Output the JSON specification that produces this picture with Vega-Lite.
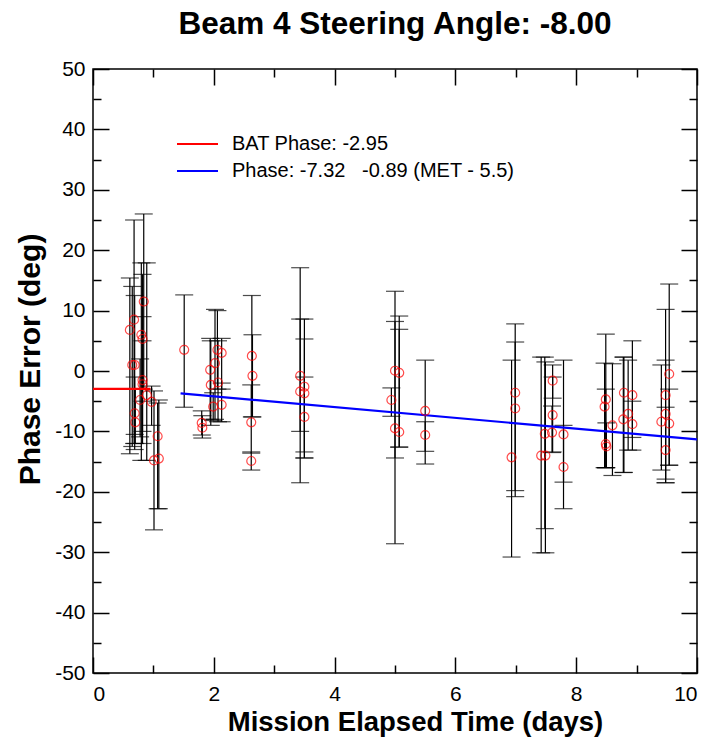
{
  "$schema": "https://vega.github.io/schema/vega-lite/v6.json",
  "autosize": "none",
  "width": 604,
  "height": 604,
  "padding": {"left": 93, "top": 69, "right": 15, "bottom": 69},
  "background": "white",
  "title": {
    "text": "Beam 4 Steering Angle: -8.00",
    "font": "Liberation Sans",
    "fontSize": 31.5,
    "fontWeight": "bold",
    "color": "black",
    "anchor": "middle",
    "baseline": "alphabetic",
    "offset": -7
  },
  "config": {
    "view": {"stroke": "black", "strokeWidth": 1.5},
    "axis": {
      "domain": false,
      "grid": false,
      "tickColor": "black",
      "tickWidth": 1.5,
      "labelColor": "black",
      "labelFont": "Liberation Sans",
      "labelFontSize": 21,
      "titleFont": "Liberation Sans",
      "titleFontSize": 27.5,
      "titleFontWeight": "bold",
      "titleColor": "black"
    }
  },
  "resolve": {"axis": {"x": "independent", "y": "independent"}},
  "datasets": {
    "pts": [
      {"t": 0.61, "p": 6.8, "lo": -13.7, "hi": 15.4},
      {"t": 0.68, "p": 8.5, "lo": -12.0, "hi": 25.0},
      {"t": 0.65, "p": 1.0, "lo": -12.5, "hi": 14.0},
      {"t": 0.69, "p": 1.0, "lo": -10.5, "hi": 12.5},
      {"t": 0.69, "p": -7.0, "lo": -13.0, "hi": -1.0},
      {"t": 0.70, "p": -8.5, "lo": -12.0, "hi": -3.0},
      {"t": 0.84, "p": 11.5, "lo": -3.0, "hi": 26.0},
      {"t": 0.80, "p": 6.0, "lo": -14.8, "hi": 17.9},
      {"t": 0.82, "p": 5.3, "lo": -5.0, "hi": 16.0},
      {"t": 0.82, "p": -1.5, "lo": -12.0, "hi": 9.0},
      {"t": 0.82, "p": -2.2, "lo": -10.0, "hi": 5.0},
      {"t": 0.89, "p": -4.0, "lo": -14.8, "hi": 17.9},
      {"t": 0.78, "p": -4.8, "lo": -10.9, "hi": 2.0},
      {"t": 0.97, "p": -5.1, "lo": -9.0, "hi": -2.5},
      {"t": 1.07, "p": -10.8, "lo": -22.8, "hi": -5.3},
      {"t": 1.01, "p": -14.8, "lo": -26.3, "hi": -3.3},
      {"t": 1.09, "p": -14.5, "lo": -22.8, "hi": -4.8},
      {"t": 1.51, "p": 3.5, "lo": -6.0, "hi": 12.6},
      {"t": 1.80, "p": -8.6, "lo": -10.6, "hi": -6.6},
      {"t": 1.81, "p": -9.4, "lo": -11.1, "hi": -7.4},
      {"t": 2.06, "p": 3.5, "lo": -3.0, "hi": 10.0},
      {"t": 2.13, "p": 3.0, "lo": -3.0, "hi": 5.4},
      {"t": 2.02, "p": 1.3, "lo": -8.0, "hi": 10.2},
      {"t": 1.94, "p": 0.2, "lo": -8.0, "hi": 5.4},
      {"t": 1.95, "p": -2.3, "lo": -9.0, "hi": 5.0},
      {"t": 2.07, "p": -1.9, "lo": -8.4, "hi": 5.0},
      {"t": 1.99, "p": -5.9, "lo": -8.2, "hi": -3.6},
      {"t": 2.13, "p": -5.6, "lo": -8.4, "hi": -2.0},
      {"t": 2.63, "p": 2.5, "lo": -7.6, "hi": 12.5},
      {"t": 2.64, "p": -0.8, "lo": -7.6, "hi": 6.0},
      {"t": 2.62, "p": -8.5, "lo": -13.6, "hi": -2.3},
      {"t": 2.62, "p": -14.9, "lo": -16.4, "hi": -13.4},
      {"t": 3.43, "p": -0.8, "lo": -18.5, "hi": 17.1},
      {"t": 3.43, "p": -3.4, "lo": -10.0, "hi": 8.6},
      {"t": 3.50, "p": -2.6, "lo": -13.4, "hi": 5.3},
      {"t": 3.50, "p": -3.7, "lo": -14.4, "hi": 8.6},
      {"t": 3.50, "p": -7.6, "lo": -14.4, "hi": -1.0},
      {"t": 5.00, "p": 0.05, "lo": -28.6, "hi": 13.2},
      {"t": 5.07, "p": -0.3, "lo": -12.6, "hi": 9.1},
      {"t": 4.94, "p": -4.8, "lo": -7.5, "hi": -2.8},
      {"t": 5.00, "p": -9.5, "lo": -14.4, "hi": 8.2},
      {"t": 5.07, "p": -10.1, "lo": -12.6, "hi": 6.9},
      {"t": 5.50, "p": -6.6, "lo": -13.3, "hi": 1.8},
      {"t": 5.50, "p": -10.6, "lo": -15.4, "hi": -8.4},
      {"t": 6.99, "p": -3.6, "lo": -19.8, "hi": 7.8},
      {"t": 6.99, "p": -6.2, "lo": -20.8, "hi": 4.8},
      {"t": 6.93, "p": -14.3, "lo": -30.8, "hi": 1.8},
      {"t": 7.61, "p": -1.6, "lo": -4.5, "hi": 1.0},
      {"t": 7.61, "p": -7.3, "lo": -13.4, "hi": -1.0},
      {"t": 7.48, "p": -10.4, "lo": -26.1, "hi": 2.3},
      {"t": 7.60, "p": -10.2, "lo": -13.5, "hi": -5.8},
      {"t": 7.79, "p": -10.5, "lo": -18.4, "hi": 1.8},
      {"t": 7.42, "p": -14.0, "lo": -30.1, "hi": 2.3},
      {"t": 7.49, "p": -14.0, "lo": -30.1, "hi": 1.5},
      {"t": 7.79, "p": -15.9, "lo": -22.8, "hi": -9.0},
      {"t": 8.49, "p": -4.7, "lo": -16.0, "hi": 6.1},
      {"t": 8.47, "p": -5.9, "lo": -16.0, "hi": 1.3},
      {"t": 8.60, "p": -9.0, "lo": -17.3, "hi": 1.2},
      {"t": 8.49, "p": -12.1, "lo": -16.0, "hi": -3.0},
      {"t": 8.50, "p": -12.5, "lo": -16.0, "hi": -8.6},
      {"t": 8.79, "p": -3.6, "lo": -16.8, "hi": 2.3},
      {"t": 8.93, "p": -4.0, "lo": -13.1, "hi": 5.0},
      {"t": 8.86, "p": -7.1, "lo": -13.1, "hi": 1.8},
      {"t": 8.78, "p": -8.0, "lo": -16.8, "hi": 2.3},
      {"t": 8.93, "p": -8.8, "lo": -11.0, "hi": -5.0},
      {"t": 9.54, "p": -0.5, "lo": -15.6, "hi": 14.4},
      {"t": 9.48, "p": -4.0, "lo": -18.5, "hi": 10.2},
      {"t": 9.48, "p": -7.1, "lo": -17.9, "hi": 1.8},
      {"t": 9.41, "p": -8.4, "lo": -16.4, "hi": 1.0},
      {"t": 9.54, "p": -8.7, "lo": -15.6, "hi": -3.0},
      {"t": 9.48, "p": -13.1, "lo": -18.5, "hi": -6.0}
    ],
    "fits": [
      {"series": "BAT Phase: -2.95", "t": 0.0, "p": -2.95},
      {"series": "BAT Phase: -2.95", "t": 0.95, "p": -2.95},
      {"series": "Phase: -7.32\u00a0\u00a0\u00a0-0.89 (MET - 5.5)", "t": 1.45, "p": -3.71},
      {"series": "Phase: -7.32\u00a0\u00a0\u00a0-0.89 (MET - 5.5)", "t": 10.0, "p": -11.33}
    ]
  },
  "layer": [
    {
      "data": {"name": "pts"},
      "mark": {"type": "rule", "color": "black", "strokeWidth": 1.2},
      "encoding": {
        "x": {"field": "t", "type": "quantitative", "scale": {"domain": [0, 10], "nice": false},
          "axis": {"orient": "bottom", "title": "Mission Elapsed Time (days)", "values": [0,1,2,3,4,5,6,7,8,9,10],
            "labelExpr": "datum.value % 2 === 0 ? datum.label : ''",
            "tickSize": {"condition": {"test": "datum.value % 2 === 0", "value": -16}, "value": -8},
            "labelPadding": 26, "titlePadding": 4, "titleX": 322}},
        "y": {"field": "lo", "type": "quantitative", "scale": {"domain": [-50, 50], "nice": false},
          "axis": {"orient": "left", "title": "Phase Error (deg)", "values": [-50,-45,-40,-35,-30,-25,-20,-15,-10,-5,0,5,10,15,20,25,30,35,40,45,50],
            "labelExpr": "datum.value % 10 === 0 ? replace(datum.label, '\u2212', '-') : ''",
            "tickSize": {"condition": {"test": "datum.value % 10 === 0", "value": -16}, "value": -8},
            "labelPadding": 24, "titlePadding": 9, "titleFontSize": 30, "titleY": 290}},
        "y2": {"field": "hi"}
      }
    },
    {
      "data": {"name": "pts"},
      "mark": {"type": "tick", "orient": "horizontal", "color": "black", "size": 18, "thickness": 1.2},
      "encoding": {
        "x": {"field": "t", "type": "quantitative", "axis": null},
        "y": {"field": "lo", "type": "quantitative", "axis": null}
      }
    },
    {
      "data": {"name": "pts"},
      "mark": {"type": "tick", "orient": "horizontal", "color": "black", "size": 18, "thickness": 1.2},
      "encoding": {
        "x": {"field": "t", "type": "quantitative", "axis": null},
        "y": {"field": "hi", "type": "quantitative", "axis": null}
      }
    },
    {
      "data": {"name": "fits"},
      "mark": {"type": "line", "strokeWidth": 2.2},
      "encoding": {
        "x": {"field": "t", "type": "quantitative", "axis": null},
        "y": {"field": "p", "type": "quantitative", "axis": null},
        "color": {"field": "series", "type": "nominal",
          "scale": {"domain": ["BAT Phase: -2.95", "Phase: -7.32\u00a0\u00a0\u00a0-0.89 (MET - 5.5)"], "range": ["#ff0000", "#0000ff"]},
          "legend": {"title": null, "orient": "none", "legendX": 83, "legendY": 62, "symbolType": "stroke",
            "symbolSize": 1681, "symbolStrokeWidth": 2, "clipHeight": 26, "rowPadding": 1, "labelOffset": 13,
            "labelFont": "Liberation Sans", "labelFontSize": 20, "labelColor": "black", "labelLimit": 400, "padding": 0}}
      }
    },
    {
      "data": {"name": "pts"},
      "mark": {"type": "point", "shape": "circle", "filled": false, "color": "#ff0000", "size": 80, "strokeWidth": 1.2},
      "encoding": {
        "x": {"field": "t", "type": "quantitative",
          "axis": {"orient": "top", "title": null, "labels": false, "values": [0,1,2,3,4,5,6,7,8,9,10],
            "tickSize": {"condition": {"test": "datum.value % 2 === 0", "value": -16}, "value": -8}}},
        "y": {"field": "p", "type": "quantitative",
          "axis": {"orient": "right", "title": null, "labels": false, "values": [-50,-45,-40,-35,-30,-25,-20,-15,-10,-5,0,5,10,15,20,25,30,35,40,45,50],
            "tickSize": {"condition": {"test": "datum.value % 10 === 0", "value": -16}, "value": -8}}}
      }
    }
  ]
}
